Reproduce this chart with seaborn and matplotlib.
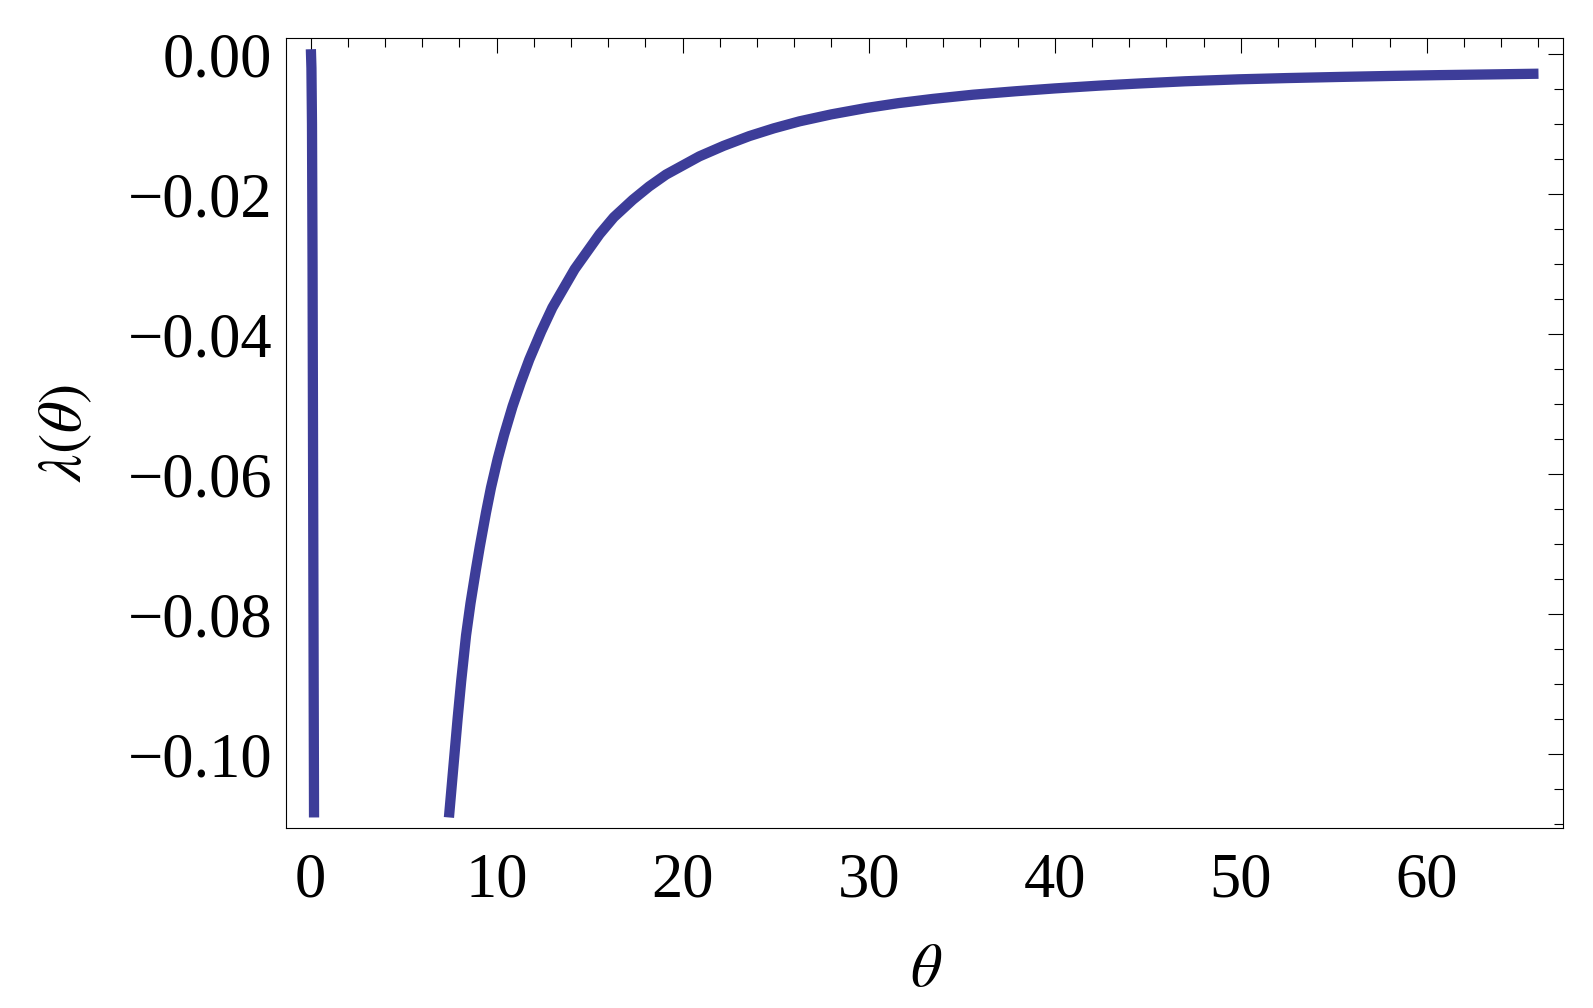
import pandas as pd
import seaborn as sns
import matplotlib.pyplot as plt
from matplotlib.ticker import MultipleLocator, FuncFormatter

sns.set_style("white")
plt.rcParams['font.family'] = ['Liberation Serif', 'DejaVu Serif']
plt.rcParams['mathtext.fontset'] = 'stix'
for k in ['text.color', 'axes.labelcolor', 'xtick.color', 'ytick.color']:
    plt.rcParams[k] = 'black'

# branch near theta = 0 (almost vertical)
theta_a = [0.02, 0.05, 0.08, 0.11, 0.14, 0.17, 0.19]
lam_a = [0.0007, -0.002, -0.01, -0.03, -0.06, -0.09, -0.109]

# main branch
theta_b = [7.44, 7.91, 8.1, 8.36, 8.6, 8.89, 9.1, 9.43, 9.7, 10.06, 10.4, 10.86,
           11.3, 11.76, 12.4, 13.0, 14.2, 15.54, 16.3, 17.32, 18.2, 19.11,
           20.9, 22.2, 23.59, 24.9, 26.28, 28.0, 29.86, 31.6, 33.44, 35.6,
           37.92, 40.0, 42.4, 44.5, 47.0, 49.9, 52.5, 55.3, 58.0, 60.7, 63.4,
           66.0]
lam_b = [-0.109, -0.0948, -0.0895, -0.0830, -0.0784, -0.0736, -0.0703, -0.0655,
         -0.0619, -0.0578, -0.0544, -0.0503, -0.0469, -0.0436, -0.0396, -0.0362,
         -0.0307, -0.0257, -0.0233, -0.0208, -0.0189, -0.0172, -0.0146, -0.0131,
         -0.0117, -0.0106, -0.0096, -0.0086, -0.0077, -0.0070, -0.0064, -0.0058,
         -0.0053, -0.0049, -0.0045, -0.0042, -0.00388, -0.0036, -0.00342,
         -0.00326, -0.00312, -0.0030, -0.0029, -0.0028]

df = pd.DataFrame({
    "theta": theta_a + theta_b,
    "lam": lam_a + lam_b,
    "branch": ["a"] * len(theta_a) + ["b"] * len(theta_b),
})

fig = plt.figure(figsize=(15.93, 10.08), dpi=100)
ax = fig.add_axes([0.1795, 0.1786, 0.9812 - 0.1795, 0.9623 - 0.1786])

sns.lineplot(data=df, x="theta", y="lam", units="branch", estimator=None,
             sort=False, color="#3d3d99", linewidth=7.4, ax=ax,
             solid_capstyle="butt", solid_joinstyle="round")

ax.set_xlim(-1.32, 67.32)
ax.set_ylim(-0.1105, 0.0023)

ax.xaxis.set_major_locator(MultipleLocator(10))
ax.xaxis.set_minor_locator(MultipleLocator(2))
ax.yaxis.set_major_locator(MultipleLocator(0.02))
ax.yaxis.set_minor_locator(MultipleLocator(0.005))


def yfmt(v, pos):
    s = "%.2f" % abs(v)
    return ("\u2212" + s) if v < -1e-9 else s


ax.yaxis.set_major_formatter(FuncFormatter(yfmt))
ax.xaxis.set_major_formatter(FuncFormatter(lambda v, p: "%d" % round(v)))

ax.tick_params(which="both", direction="in", top=True, right=True,
               color="black", width=0.8)
ax.tick_params(which="major", length=10.8, labelsize=45)
ax.tick_params(which="minor", length=6.5)
ax.tick_params(axis="y", which="major", pad=10)
ax.tick_params(axis="x", which="major", pad=18)

for sp in ax.spines.values():
    sp.set_linewidth(0.8)
    sp.set_color("black")

ax.set_xlabel(r"$\theta$", fontsize=44, va="center")
ax.xaxis.set_label_coords(0.501, -0.181)
ax.set_ylabel(r"$\lambda(\theta)$", fontsize=44, va="center")
ax.yaxis.set_label_coords(-0.172, 0.50)

fig.savefig("out.png", dpi=100)
